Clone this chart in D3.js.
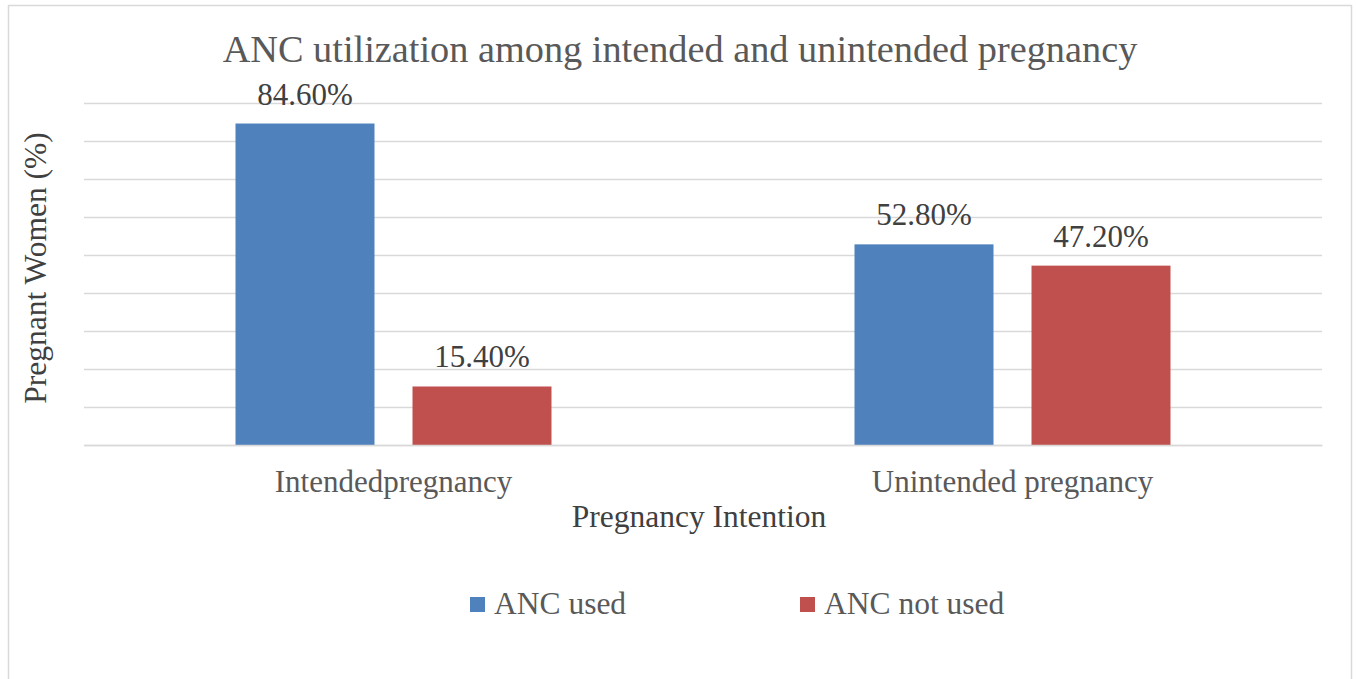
<!DOCTYPE html>
<html>
<head>
<meta charset="utf-8">
<script src="https://cdn.jsdelivr.net/npm/d3@7"></script>
<style>
  html, body { margin: 0; padding: 0; background: #fff; }
  svg { display: block; }
  text { font-family: "Liberation Serif", "Times New Roman", serif; }
</style>
</head>
<body>
<svg id="chart" width="1356" height="679"></svg>
<script>
// Chart data
const categories = ["Intendedpregnancy", "Unintended pregnancy"];
const seriesNames = ["ANC used", "ANC not used"];
const ancUsed = [84.6, 52.8];
const ancNotUsed = [15.4, 47.2];
const yTicks = [0, 10, 20, 30, 40, 50, 60, 70, 80, 90];
const titleText = "ANC utilization among intended and unintended pregnancy";
const xTitle = "Pregnancy Intention";
const yTitle = "Pregnant Women (%)";

const colors = ["#4F81BD", "#C0504D"];
const seriesValues = [ancUsed, ancNotUsed];

const svg = d3.select("#chart");
const W = 1356, H = 679;
const plot = { left: 84, right: 1322, top: 103, bottom: 445 };

// Outer chart-area frame
svg.append("rect")
  .attr("x", 8.5).attr("y", 5.5)
  .attr("width", 1343).attr("height", 720)
  .attr("fill", "#fff")
  .attr("stroke", "#d9d9d9").attr("stroke-width", 1.5);

const y = d3.scaleLinear().domain([0, 90]).range([plot.bottom, plot.top]);
const x0 = d3.scaleBand().domain(categories).range([plot.left, plot.right]).padding(0);
const x1 = d3.scaleBand().domain(seriesNames).range([0, x0.bandwidth()])
  .paddingInner(0.2147).paddingOuter(0.856);

// Horizontal gridlines (no tick labels)
const yAxis = d3.axisLeft(y).tickValues(yTicks)
  .tickSize(-(plot.right - plot.left)).tickFormat("");
const gy = svg.append("g").attr("transform", `translate(${plot.left},0)`).call(yAxis);
gy.select(".domain").remove();
gy.selectAll(".tick line").attr("stroke", "#d9d9d9").attr("stroke-width", 1.3);

// Bars
const groups = svg.append("g").selectAll("g")
  .data(categories)
  .join("g")
  .attr("transform", d => `translate(${x0(d)},0)`);

groups.selectAll("rect")
  .data((c, i) => seriesNames.map((s, k) => ({ s, k, v: seriesValues[k][i] })))
  .join("rect")
  .attr("x", d => x1(d.s))
  .attr("width", x1.bandwidth())
  .attr("y", d => y(d.v))
  .attr("height", d => y(0) - y(d.v))
  .attr("fill", d => colors[d.k]);

// Data labels
groups.selectAll("text.lbl")
  .data((c, i) => seriesNames.map((s, k) => ({ s, k, v: seriesValues[k][i] })))
  .join("text")
  .attr("class", "lbl")
  .attr("x", d => x1(d.s) + x1.bandwidth() / 2)
  .attr("y", d => y(d.v) - 19)
  .attr("text-anchor", "middle")
  .attr("font-size", 31)
  .attr("fill", "#404040")
  .text(d => d.v.toFixed(2) + "%");

// Category axis labels
const xAxis = d3.axisBottom(x0).tickSize(0).tickPadding(0);
const gx = svg.append("g").attr("transform", `translate(0,${plot.bottom})`).call(xAxis);
gx.select(".domain").attr("stroke", "#d9d9d9").attr("stroke-width", 1.3);
gx.selectAll(".tick text")
  .attr("y", 47).attr("dy", null)
  .attr("font-size", 31)
  .attr("font-family", "Liberation Serif, Times New Roman, serif")
  .attr("fill", "#595959");

// Title
svg.append("text")
  .attr("x", 680).attr("y", 62)
  .attr("text-anchor", "middle")
  .attr("font-size", 38.3)
  .attr("fill", "#595959")
  .text(titleText);

// Axis titles
svg.append("text")
  .attr("x", 699).attr("y", 527)
  .attr("text-anchor", "middle")
  .attr("font-size", 31.5)
  .attr("fill", "#404040")
  .text(xTitle);

svg.append("text")
  .attr("transform", "translate(46,268) rotate(-90)")
  .attr("text-anchor", "middle")
  .attr("font-size", 31.5)
  .attr("fill", "#404040")
  .text(yTitle);

// Legend
const legendX = [470, 800];
const legend = svg.append("g").selectAll("g")
  .data(seriesNames)
  .join("g")
  .attr("transform", (d, i) => `translate(${legendX[i]},0)`);
legend.append("rect")
  .attr("x", 0).attr("y", 597)
  .attr("width", 15).attr("height", 15)
  .attr("fill", (d, i) => colors[i]);
legend.append("text")
  .attr("x", 24).attr("y", 614)
  .attr("font-size", 31.5)
  .attr("fill", "#595959")
  .text(d => d);
</script>
</body>
</html>
